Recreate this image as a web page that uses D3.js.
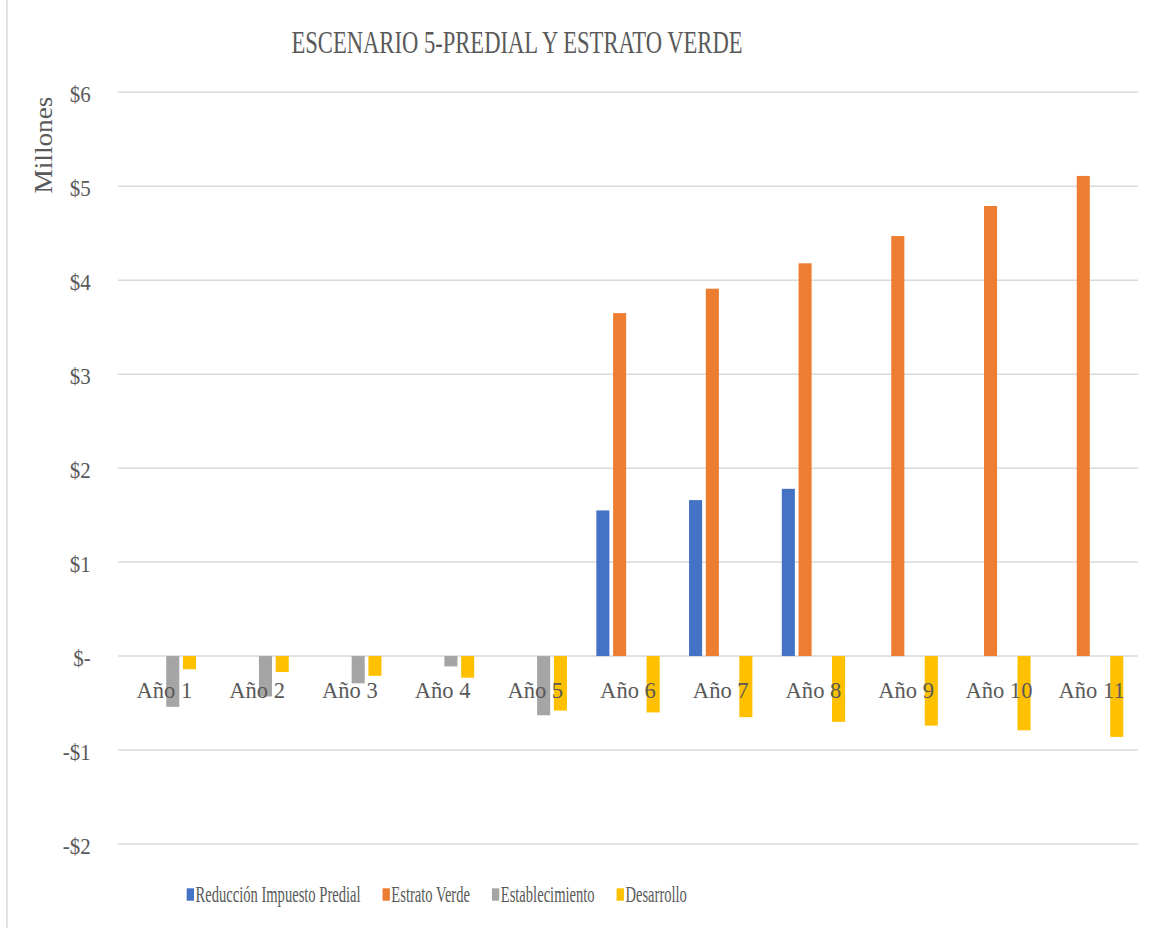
<!DOCTYPE html>
<html>
<head>
<meta charset="utf-8">
<script src="https://cdn.jsdelivr.net/npm/d3@7/dist/d3.min.js"></script>
<style>
  html, body { margin: 0; padding: 0; background: #fff; }
  svg text { font-family: "Liberation Serif", "DejaVu Serif", "Noto Serif", serif; }
</style>
</head>
<body>
<svg id="chart" width="1154" height="928"></svg>
<script>
// Category labels and series values (millones)
const categories = ["Año 1", "Año 2", "Año 3", "Año 4", "Año 5", "Año 6", "Año 7", "Año 8", "Año 9", "Año 10", "Año 11"];
const seriesNames = ["Reducción Impuesto Predial", "Estrato Verde", "Establecimiento", "Desarrollo"];
const reduccionPredial = [0, 0, 0, 0, 0, 1.55, 1.66, 1.78, 0, 0, 0];
const estratoVerde = [0, 0, 0, 0, 0, 3.65, 3.91, 4.18, 4.47, 4.79, 5.11];
const establecimiento = [-0.54, -0.43, -0.29, -0.11, -0.63, 0, 0, 0, 0, 0, 0];
const desarrollo = [-0.14, -0.17, -0.21, -0.23, -0.58, -0.60, -0.65, -0.70, -0.74, -0.79, -0.86];
const yTicks = [-2, -1, 0, 1, 2, 3, 4, 5, 6];
const titleText = "ESCENARIO 5-PREDIAL Y ESTRATO VERDE";
const yAxisTitle = "Millones";

const seriesValues = [reduccionPredial, estratoVerde, establecimiento, desarrollo];
const colors = ["#4472C4", "#ED7D31", "#A5A5A5", "#FFC000"];
const textColor = "#595959";
const serif = "'Liberation Serif', 'DejaVu Serif', serif";

const svg = d3.select("#chart");

// plot area
const plot = { left: 118, right: 1138, top: 92.3, bottom: 844 };

const x0 = d3.scaleBand().domain(categories).range([plot.left, plot.right]).paddingInner(0).paddingOuter(0);
const groupPad = 14.7;
const x1 = d3.scaleBand().domain(seriesNames)
  .range([groupPad, x0.bandwidth() - groupPad]).paddingInner(0.22).paddingOuter(0);
const y = d3.scaleLinear().domain([-2, 6]).range([plot.bottom, plot.top]);

// chart frame edge
svg.append("line")
  .attr("x1", 7).attr("x2", 7).attr("y1", 0).attr("y2", 928)
  .attr("stroke", "#d9d9d9").attr("stroke-width", 1.5);

// gridlines
svg.append("g").selectAll("line").data(yTicks).join("line")
  .attr("x1", plot.left).attr("x2", plot.right)
  .attr("y1", d => y(d)).attr("y2", d => y(d))
  .attr("stroke", "#d9d9d9").attr("stroke-width", 1.5);

// y tick labels
const fmt = v => v === 0 ? "$-" : (v < 0 ? "-$" + Math.abs(v) : "$" + v);
svg.append("g").selectAll("text").data(yTicks).join("text")
  .attr("transform", d => `translate(90.7,${y(d) + 9.5}) scale(0.91,1)`)
  .attr("text-anchor", "end")
  .attr("font-family", serif)
  .attr("font-size", 23)
  .attr("fill", textColor)
  .text(fmt);

// bars
const rows = categories.map((c, i) => ({ cat: c, vals: seriesNames.map((s, k) => ({ s, k, v: seriesValues[k][i] })) }));
const groups = svg.append("g").selectAll("g").data(rows).join("g")
  .attr("transform", d => `translate(${x0(d.cat)},0)`);
groups.selectAll("rect").data(d => d.vals.filter(e => e.v !== 0)).join("rect")
  .attr("x", d => x1(d.s))
  .attr("width", x1.bandwidth())
  .attr("y", d => y(Math.max(0, d.v)))
  .attr("height", d => Math.abs(y(d.v) - y(0)))
  .attr("fill", d => colors[d.k]);

// category labels
svg.append("g").selectAll("text").data(categories).join("text")
  .attr("transform", d => `translate(${x0(d) + x0.bandwidth() / 2},697.5) scale(0.94,1)`)
  .attr("text-anchor", "middle")
  .attr("font-family", serif)
  .attr("font-size", 24)
  .attr("fill", textColor)
  .text(d => d);

// title
svg.append("text")
  .attr("x", 517).attr("y", 53.3)
  .attr("text-anchor", "middle")
  .attr("font-family", serif)
  .attr("font-size", 32)
  .attr("fill", textColor)
  .attr("textLength", 451).attr("lengthAdjust", "spacingAndGlyphs")
  .text(titleText);

// y axis title
svg.append("text")
  .attr("transform", "translate(52,145) rotate(-90) scale(1.09,1)")
  .attr("text-anchor", "middle")
  .attr("font-family", serif)
  .attr("font-size", 25)
  .attr("fill", textColor)
  .text(yAxisTitle);

// legend
const legend = svg.append("g");
let lx = 186.7;
const legendSx = 0.62;
seriesNames.forEach((name, k) => {
  legend.append("rect")
    .attr("x", lx).attr("y", 888.3).attr("width", 7.3).attr("height", 12.4)
    .attr("fill", colors[k]);
  const t = legend.append("text")
    .attr("transform", `translate(${lx + 8.8},901.7) scale(${legendSx},1)`)
    .attr("font-family", serif)
    .attr("font-size", 23.5)
    .attr("fill", textColor)
    .text(name);
  const w = t.node().getComputedTextLength() * legendSx;
  lx += 8.8 + w + 22;
});
</script>
</body>
</html>
